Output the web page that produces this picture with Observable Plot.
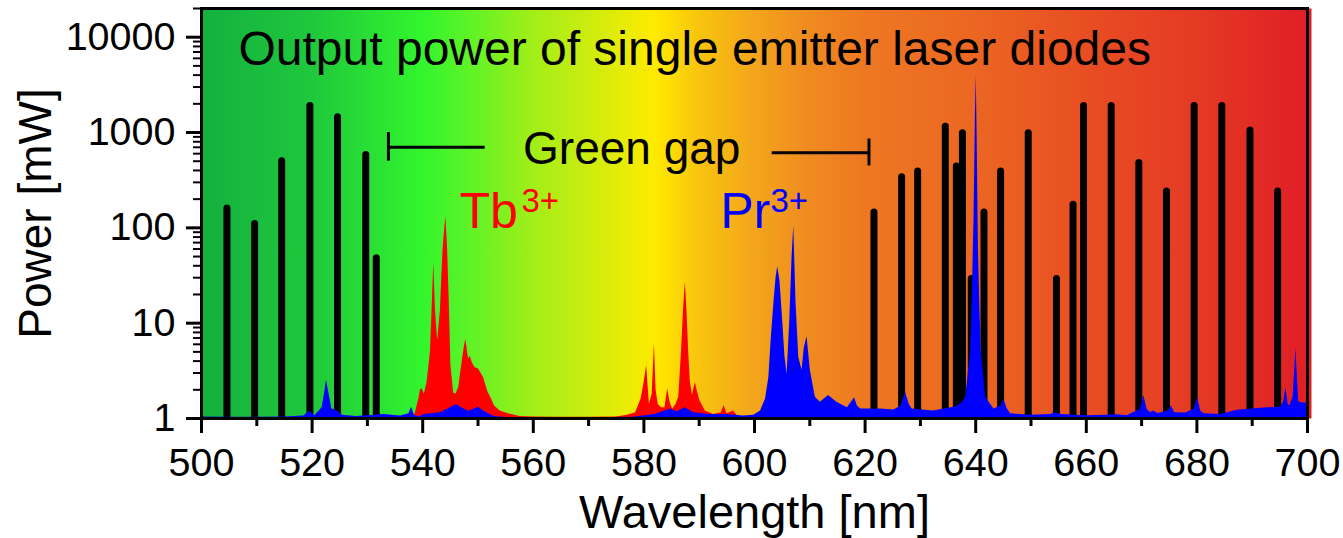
<!DOCTYPE html>
<html>
<head>
<meta charset="utf-8">
<script src="https://cdn.jsdelivr.net/npm/d3@7"></script>
<script src="https://cdn.jsdelivr.net/npm/@observablehq/plot@0.6"></script>
<style>
  html, body { margin: 0; padding: 0; background: #fff; }
  #chart svg { display: block; }
</style>
</head>
<body>
<div id="chart"></div>
<script>
// ---- Laser diode lines (wavelength nm, power mW)
const diodeWl = [504.6, 509.6, 514.5, 519.6, 524.6, 529.7, 531.6,
  621.6, 626.6, 629.5, 634.5, 636.5, 637.6, 639.2, 641.5, 644.5, 649.5, 654.6, 657.6,
  659.5, 664.5, 669.5, 674.5, 679.5, 684.5, 689.6, 694.6];
const diodeP = [160, 110, 500, 1900, 1450, 580, 48,
  145, 340, 390, 1150, 440, 980, 29, 145, 390, 980, 29, 175,
  1900, 1900, 480, 240, 1900, 1900, 1050, 240];

// ---- Tb3+ emission spectrum
const tbWl = [538.0, 538.6, 539.3, 539.6, 539.9, 540.3, 540.8, 541.4, 541.8, 542.0, 542.3, 542.7, 543.2, 543.5, 543.7, 544.0, 544.2, 544.5, 544.8, 545.1, 545.6, 546.0, 546.5, 547.1, 547.5, 547.8, 548.1, 548.3, 548.6, 549.0, 549.5, 550.1, 551.0, 551.8, 552.3, 553.0, 554.0, 555.5, 557.6, 560, 565, 570, 575, 577, 578.5, 579.5, 580.0, 580.5, 581.0, 581.5, 581.9, 582.2, 582.6, 583.2, 583.8, 584.3, 584.7, 585.2, 585.8, 586.3, 586.8, 587.2, 587.5, 587.8, 588.1, 588.4, 588.8, 589.0, 589.3, 589.7, 590.1, 591.1, 592.6, 594.0, 594.5, 595.0, 596.2, 597.0, 597.5];
const tbP = [1.0, 1.1, 1.6, 2.0, 2.05, 1.8, 2.4, 5.0, 20, 43, 14, 6.5, 13.5, 35, 62, 100, 130, 60, 17, 3.6, 1.85, 1.8, 2.1, 3.8, 5.5, 6.8, 5.0, 4.2, 4.5, 3.8, 3.4, 3.3, 2.7, 1.9, 1.67, 1.35, 1.2, 1.12, 1.05, 1.04, 1.03, 1.03, 1.04, 1.08, 1.15, 1.6, 2.3, 3.6, 1.4, 1.8, 6.1, 2.0, 1.4, 1.3, 1.3, 2.05, 1.5, 1.25, 1.4, 1.67, 5.0, 15, 27, 13, 5.0, 2.4, 1.74, 2.0, 2.37, 1.9, 1.55, 1.2, 1.1, 1.15, 1.37, 1.12, 1.2, 1.05, 1.0];

// ---- Pr3+ emission spectrum
const prWl = [500, 505, 510, 515, 518.5, 519.6, 520.5, 521.8, 522.3, 522.6, 523.0, 523.6, 524.6, 525.5, 528, 533, 536, 537.5, 538.0, 538.5, 539.5, 540.2, 543.2, 545.0, 546.1, 547.0, 548.3, 550.1, 551.0, 552.9, 556, 570, 578, 582, 584.8, 586, 587.5, 589, 592, 595, 598, 599.9, 601.1, 602.0, 602.6, 603.0, 603.5, 603.9, 604.2, 604.6, 605.0, 605.5, 605.9, 606.4, 606.8, 607.1, 607.5, 608.0, 608.6, 609.0, 609.5, 610.1, 611.0, 611.9, 613.4, 614.9, 616.8, 618.1, 618.6, 619.2, 622.8, 625.2, 626.5, 627.3, 628.0, 628.5, 632.4, 636.3, 637.5, 638.2, 639.1, 639.4, 639.7, 639.95, 640.1, 640.25, 640.5, 640.75, 641.0, 641.8, 643.3, 644.6, 645.1, 645.6, 646.3, 650, 653.5, 654.4, 655.5, 660, 664, 665.0, 667.4, 669.8, 670.4, 671.0, 671.6, 672.1, 673, 674.8, 675.4, 676, 678, 679.5, 680.1, 680.7, 681.3, 684.3, 687.3, 691.5, 695.2, 695.7, 696.1, 696.5, 696.8, 697.4, 697.7, 697.9, 698.2, 698.4, 699.0, 700];
const prP = [1.04, 1.03, 1.03, 1.04, 1.06, 1.19, 1.07, 1.3, 1.9, 2.54, 1.9, 1.26, 1.2, 1.08, 1.05, 1.1, 1.06, 1.12, 1.31, 1.08, 1.04, 1.1, 1.15, 1.3, 1.4, 1.3, 1.19, 1.31, 1.2, 1.05, 1.02, 1.02, 1.03, 1.1, 1.26, 1.18, 1.3, 1.15, 1.1, 1.1, 1.06, 1.08, 1.2, 1.6, 2.7, 6.5, 16, 30, 39, 28, 13, 4.5, 2.9, 11.5, 50, 105, 17, 4.4, 3.2, 5.5, 7.2, 3.2, 1.67, 1.48, 1.74, 1.48, 1.3, 1.65, 1.35, 1.26, 1.26, 1.23, 1.35, 1.88, 1.4, 1.26, 1.2, 1.32, 1.45, 1.67, 5.2, 20, 128, 1500, 4000, 1000, 57, 15, 5.2, 1.67, 1.26, 1.35, 1.6, 1.3, 1.12, 1.08, 1.1, 1.15, 1.1, 1.07, 1.08, 1.1, 1.07, 1.25, 1.74, 1.25, 1.15, 1.2, 1.13, 1.2, 1.35, 1.15, 1.14, 1.25, 1.65, 1.2, 1.12, 1.1, 1.22, 1.28, 1.32, 1.5, 2.1, 1.4, 1.35, 1.67, 3.2, 5.5, 2.5, 1.5, 1.45, 1.45];

// ---- Background spectrum gradient stops
const gradWl = [500, 520, 540, 550, 560, 570, 582, 590, 600, 610, 620, 640, 660, 680, 700];
const gradColors = ["#14b03f", "#1fc83c", "#33f52d", "#66f226", "#a2ee18", "#ccec0e", "#ffea00", "#f8c40e", "#f3a51c", "#f08a20", "#ee7822", "#eb6622", "#e84e22", "#e43a24", "#e01e26"];

// ---- Axis ticks
const xMajor = [500, 520, 540, 560, 580, 600, 620, 640, 660, 680, 700];
const xMinor = [510, 530, 550, 570, 590, 610, 630, 650, 670, 690];
const yMajor = [1, 10, 100, 1000, 10000];
const yMinor = [2, 3, 4, 5, 6, 7, 8, 9, 20, 30, 40, 50, 60, 70, 80, 90, 200, 300, 400, 500, 600, 700, 800, 900, 2000, 3000, 4000, 5000, 6000, 7000, 8000, 9000, 20000];

// ---- Annotations
const titleText = ["Output power of single emitter laser diodes"];
const gapLabel = [{wl: 577.8, p: 464, text: "Green gap"}];
const gapLines = [{x1: 533.8, x2: 551.3, p: 700}, {x1: 603.2, x2: 620.7, p: 615}];
const gapEnds = [{wl: 533.8, p1: 500, p2: 1000}, {wl: 620.7, p1: 446, p2: 855}];
const ionLabels = [
  {wl: 546.65, p: 99, base: "Tb", sup: "3+", color: "#ff0000", supDx: 62},
  {wl: 593.85, p: 99, base: "Pr", sup: "3+", color: "#0000ff", supDx: 50}
];

const diodes = diodeWl.map((w, i) => ({wl: w, p: diodeP[i]}));
const tb = tbWl.map((w, i) => ({wl: w, p: tbP[i]}));
const pr = prWl.map((w, i) => ({wl: w, p: prP[i]}));

const font = "'Liberation Sans', Arial, sans-serif";

const svg = Plot.plot({
  width: 1343,
  height: 538,
  marginLeft: 201,
  marginRight: 36,
  marginTop: 8,
  marginBottom: 120,
  style: {fontFamily: font, color: "black", background: "white"},
  x: {domain: [500, 700]},
  y: {type: "log", domain: [1, 20000]},
  marks: [
    Plot.frame({fill: "url(#spectrumGrad)", stroke: null, insetRight: -4}),
    Plot.ruleX(diodes, {x: "wl", y1: 1, y2: "p", stroke: "black", strokeWidth: 7, strokeLinecap: "round", clip: true}),
    Plot.area(tb, {x1: "wl", y1: 1, y2: "p", fill: "#ff0000", clip: true}),
    Plot.area(pr, {x1: "wl", y1: 1, y2: "p", fill: "#0000ff", clip: true}),
    // Green gap bracket
    Plot.ruleY(gapLines, {y: "p", x1: "x1", x2: "x2", stroke: "black", strokeWidth: 3}),
    Plot.ruleX(gapEnds, {x: "wl", y1: "p1", y2: "p2", stroke: "black", strokeWidth: 3}),
    Plot.text(gapLabel, {x: "wl", y: "p", text: "text", fontSize: 46, lineAnchor: "bottom", textAnchor: "middle", fill: "black"}),
    // Ion labels (base + superscript)
    Plot.text(ionLabels, {x: "wl", y: "p", text: "base", fill: "color", fontSize: 50, lineAnchor: "bottom", textAnchor: "start"}),
    ...ionLabels.map(l => Plot.text([l], {x: "wl", y: "p", text: "sup", fill: "color", fontSize: 33, lineAnchor: "bottom", textAnchor: "start", dx: l.supDx, dy: -16})),
    // Title
    Plot.text(titleText, {frameAnchor: "top-left", dx: 37, dy: 56, text: d => d, fontSize: 48, lineAnchor: "bottom", textAnchor: "start", fill: "black"}),
    // Axes
    Plot.axisX({ticks: xMajor, tickSize: 15, tickPadding: 14, fontSize: 39.5, strokeWidth: 3, label: null, tickFormat: d => String(d)}),
    Plot.axisX({ticks: xMinor, tickSize: 8, strokeWidth: 3, label: null, tickFormat: () => ""}),
    Plot.axisY({ticks: yMajor, tickSize: 15, tickPadding: 11, fontSize: 39.5, strokeWidth: 3, label: null, tickFormat: d => String(d)}),
    Plot.axisY({ticks: yMinor, tickSize: 8, strokeWidth: 2, label: null, tickFormat: () => ""}),
    Plot.text(["Wavelength [nm]"], {frameAnchor: "bottom", dy: 109, text: d => d, fontSize: 47, textAnchor: "middle", lineAnchor: "bottom", fill: "black"}),
    Plot.text(["Power [mW]"], {frameAnchor: "left", dx: -151, rotate: -90, text: d => d, fontSize: 46, textAnchor: "middle", lineAnchor: "bottom", fill: "black"}),
    Plot.frame({stroke: "black", strokeWidth: 3})
  ]
});

// Gradient definition for the background spectrum
const xs = svg.scale("x");
const defs = d3.select(svg).insert("defs", ":first-child");
const grad = defs.append("linearGradient")
  .attr("id", "spectrumGrad")
  .attr("gradientUnits", "userSpaceOnUse")
  .attr("x1", xs.apply(500)).attr("x2", xs.apply(700))
  .attr("y1", 0).attr("y2", 0);
grad.selectAll("stop")
  .data(d3.zip(gradWl, gradColors))
  .join("stop")
  .attr("offset", d => (d[0] - 500) / 200)
  .attr("stop-color", d => d[1]);

document.getElementById("chart").appendChild(svg);
</script>
</body>
</html>
